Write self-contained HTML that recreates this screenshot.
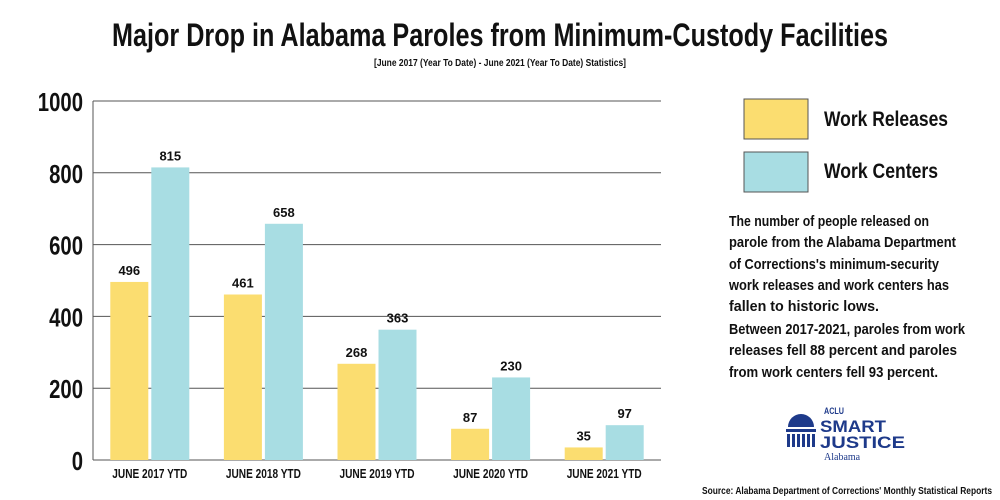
<!DOCTYPE html>
<html><head><meta charset="utf-8"><style>
body{margin:0;width:1000px;height:500px;background:#fff;overflow:hidden;}
svg{display:block}
.c{font-family:"Liberation Sans Narrow","Liberation Sans",sans-serif;font-weight:bold;fill:#111}
</style></head><body>
<svg id="chart" width="1000" height="500">
<text x="500" y="46" text-anchor="middle" class="c" font-size="32" textLength="776" lengthAdjust="spacingAndGlyphs">Major Drop in Alabama Paroles from Minimum-Custody Facilities</text>
<text x="500" y="66" text-anchor="middle" class="c" font-size="10" textLength="252" lengthAdjust="spacingAndGlyphs">[June 2017 (Year To Date) - June 2021 (Year To Date) Statistics]</text>
<g id="grid"></g><g id="bars"></g>
<rect x="744" y="99" width="64" height="40" fill="#fbdd70" stroke="#555" stroke-width="1"/>
<text x="824" y="126" class="c" font-size="21" textLength="124" lengthAdjust="spacingAndGlyphs">Work Releases</text>
<rect x="744" y="152" width="64" height="40" fill="#a8dde3" stroke="#555" stroke-width="1"/>
<text x="824" y="178" class="c" font-size="21" textLength="114" lengthAdjust="spacingAndGlyphs">Work Centers</text>
<g class="c" font-size="15">
<text x="729" y="226" textLength="200" lengthAdjust="spacingAndGlyphs">The number of people released on</text>
<text x="729" y="247" textLength="227" lengthAdjust="spacingAndGlyphs">parole from the Alabama Department</text>
<text x="729" y="269" textLength="210" lengthAdjust="spacingAndGlyphs">of Corrections's minimum-security</text>
<text x="729" y="290" textLength="220" lengthAdjust="spacingAndGlyphs">work releases and work centers has</text>
<text x="729" y="311" textLength="150" lengthAdjust="spacingAndGlyphs">fallen to historic lows.</text>
</g>
<g class="c" font-size="15">
<text x="729" y="334" textLength="236" lengthAdjust="spacingAndGlyphs">Between 2017-2021, paroles from work</text>
<text x="729" y="355" textLength="228" lengthAdjust="spacingAndGlyphs">releases fell 88 percent and paroles</text>
<text x="729" y="377" textLength="209" lengthAdjust="spacingAndGlyphs">from work centers fell 93 percent.</text>
</g>
<g>
<path d="M788 427 A13 13 0 0 1 814 427 Z" fill="#1e3a8a"/>
<rect x="786" y="429" width="30" height="3" fill="#1e3a8a"/>
<g fill="#1e3a8a"><rect x="787" y="434" width="3" height="13"/><rect x="792" y="434" width="3" height="13"/><rect x="797" y="434" width="3" height="13"/><rect x="802" y="434" width="3" height="13"/><rect x="807" y="434" width="3" height="13"/><rect x="812" y="434" width="3" height="13"/></g>
<text x="824" y="414" font-family="Liberation Sans" font-weight="bold" font-size="9" fill="#1e3a8a" textLength="20" lengthAdjust="spacingAndGlyphs">ACLU</text>
<text x="820" y="432" font-family="Liberation Sans" font-weight="bold" font-size="17" fill="#1e3a8a" textLength="66" lengthAdjust="spacingAndGlyphs">SMART</text>
<text x="820" y="448" font-family="Liberation Sans" font-weight="bold" font-size="17" fill="#1e3a8a" textLength="85" lengthAdjust="spacingAndGlyphs">JUSTICE</text>
<text x="824" y="460" font-family="Liberation Serif" font-size="10" fill="#1e3a8a">Alabama</text>
</g>
<text x="992" y="494" text-anchor="end" class="c" font-size="10" textLength="290" lengthAdjust="spacingAndGlyphs">Source: Alabama Department of Corrections' Monthly Statistical Reports</text>
</svg>
<script>
const categories=["JUNE 2017 YTD","JUNE 2018 YTD","JUNE 2019 YTD","JUNE 2020 YTD","JUNE 2021 YTD"];
const workReleases=[496,461,268,87,35];
const workCenters=[815,658,363,230,97];
const yTicks=[0,200,400,600,800,1000];
const NS="http://www.w3.org/2000/svg";
const X0=93,X1=661,Y0=460,Y1=101,YMAX=1000;
const y=v=>Y0-(v/YMAX)*(Y0-Y1);
const bw=(X1-X0)/categories.length;
const xc=i=>X0+bw*(i+0.5);
function mk(t,a,p){const e=document.createElementNS(NS,t);for(const k in a)e.setAttribute(k,a[k]);p.appendChild(e);return e;}
const grid=document.getElementById('grid'),bars=document.getElementById('bars');
yTicks.forEach(v=>{
 const l=mk('line',{x1:X0,x2:X1,y1:y(v),y2:y(v),stroke:'#555','stroke-width':1},grid);
 
 
 const s=String(v);
 const t=mk('text',{x:83,y:y(v)+10,'text-anchor':'end','class':'c','font-size':26,textLength:s.length*11.3,lengthAdjust:'spacingAndGlyphs'},grid);
 t.textContent=s;
 
 
});
const ax=mk('line',{x1:X0,x2:X0,y1:Y1,y2:Y0,stroke:'#555','stroke-width':1},grid);


const W=38;
categories.forEach((c,i)=>{
 [[workReleases[i],'#fbdd70',xc(i)-W-1.5,'work-releases'],[workCenters[i],'#a8dde3',xc(i)+1.5,'work-centers']].forEach(([v,col,x,n])=>{
  const r=mk('rect',{x:x,y:y(v),width:W,height:Y0-y(v),fill:col},bars);
  
  
  const t=mk('text',{x:x+W/2,y:y(v)-7,'text-anchor':'middle','font-family':'Liberation Sans','font-weight':'bold','font-size':13,fill:'#111'},bars);
  t.textContent=v;
  
  
 });
 const t=mk('text',{x:xc(i),y:478,'text-anchor':'middle','class':'c','font-size':13,textLength:75,lengthAdjust:'spacingAndGlyphs'},bars);
 t.textContent=c;
 
 
});
</script>
</body></html>
